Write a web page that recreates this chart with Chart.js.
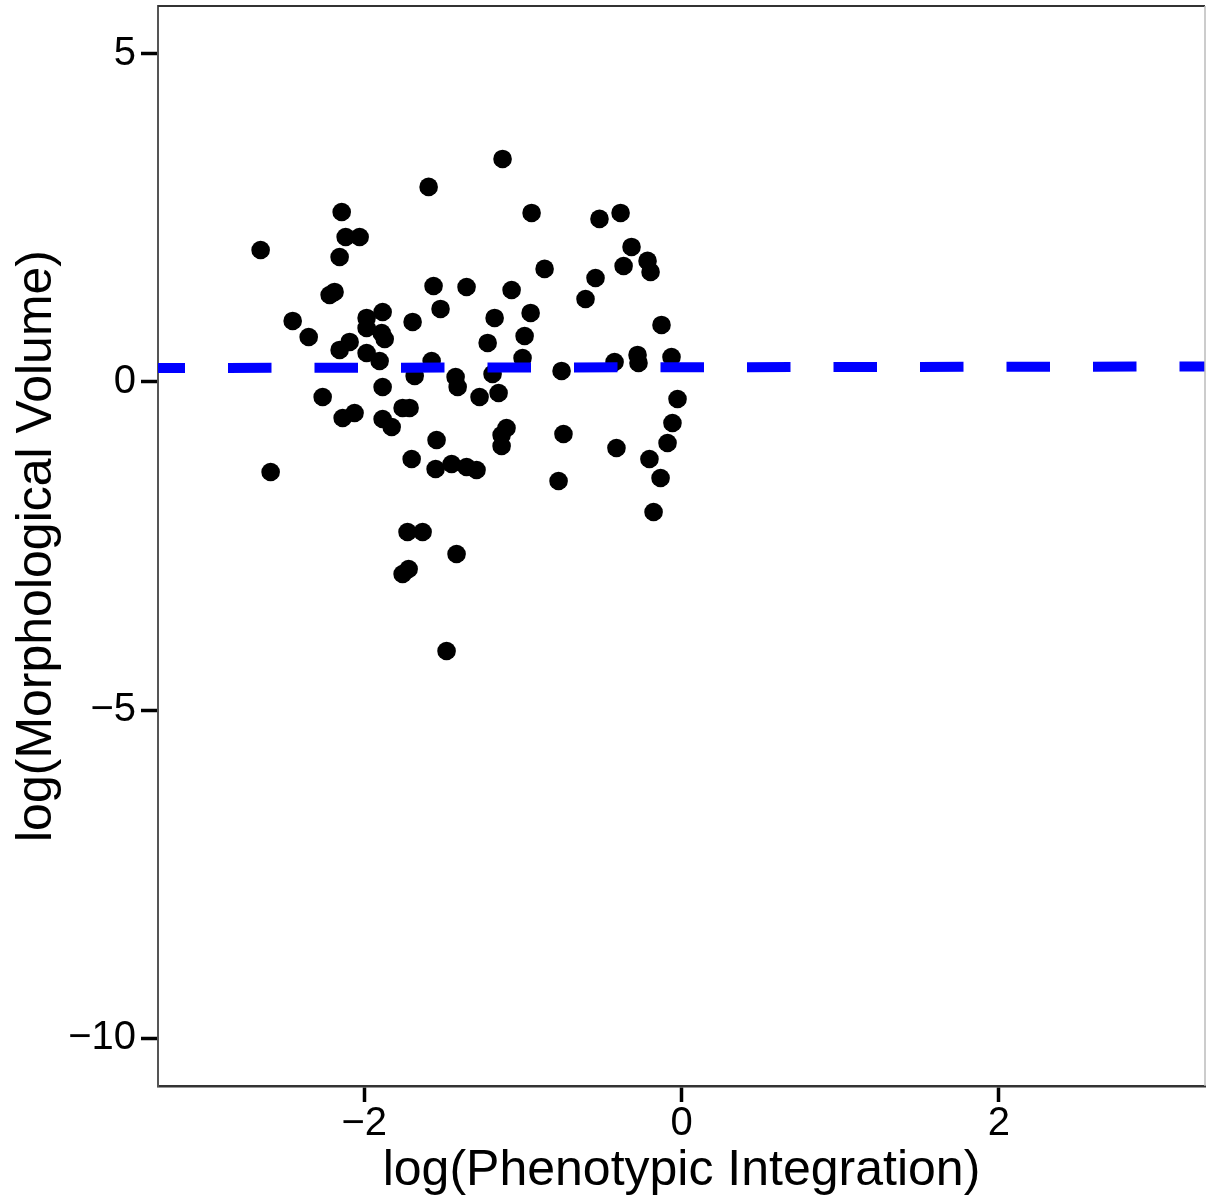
<!DOCTYPE html>
<html>
<head>
<meta charset="utf-8">
<script src="https://cdn.jsdelivr.net/npm/chart.js@4.4.1/dist/chart.umd.min.js"></script>
<style>
  html, body { margin: 0; padding: 0; background: #fff; overflow: hidden; }
  #wrap { width: 1206px; height: 1201px; }
</style>
</head>
<body>
<div id="wrap"><canvas id="myChart"></canvas></div>
<script>
// log(Phenotypic Integration) for each species
const integration = [
  -2.653, -2.590, -2.451, -2.350, -2.262, -2.218, -2.187, -2.142, -2.155, -2.117,
  -2.029, -2.155, -2.092, -2.136, -2.061, -1.985, -1.884, -1.985, -1.890, -1.871,
  -1.985, -1.903, -1.884, -1.884, -1.827, -1.758, -1.714, -1.695, -1.682, -1.701,
  -1.727, -1.632, -1.758, -1.720, -1.594, -1.563, -1.519, -1.575, -1.544, -1.550,
  -1.449, -1.424, -1.411, -1.418, -1.481, -1.355, -1.355, -1.292, -1.273, -1.222,
  -1.178, -1.191, -1.153, -1.134, -1.103, -1.134, -1.128, -1.071, -1.002, -0.989,
  -0.951, -0.945, -0.863, -0.756, -0.744, -0.775, -0.605, -0.542, -0.517, -0.384,
  -0.422, -0.410, -0.365, -0.315, -0.277, -0.271, -0.214, -0.195, -0.202, -0.176,
  -0.132, -0.126, -0.088, -0.063, -0.057, -0.025
];
// log(Morphological Volume), same order
const volume = [
  2.012, -1.372, 0.930, 0.686, -0.229, 1.326, 1.372, 2.591, 1.905, 2.210,
  2.210, 0.488, 0.610, -0.549, -0.473, 0.976, 1.067, 0.823, 0.747, 0.655,
  0.442, 0.320, -0.076, -0.564, -0.686, -0.396, -0.396, 0.915, 0.091, -1.174,
  -2.287, -2.287, -2.927, -2.851, 2.973, 1.463, 1.113, 0.320, -0.884, -1.326,
  -1.250, 0.076, -0.076, -2.622, -4.101, 1.448, -1.296, -1.341, -0.229, 0.595,
  0.976, 0.122, -0.168, -0.976, -0.701, -0.808, 3.399, 1.402, 0.366, 0.701,
  1.052, 2.576, 1.723, 0.168, -0.793, -1.509, 1.265, 1.585, 2.485, 2.576,
  0.305, -1.006, 1.768, 2.058, 0.412, 0.290, 1.845, 1.677, -1.174, -1.982,
  -1.463, 0.869, -0.930, 0.381, -0.625, -0.259
];
// fitted line end points
const fitX = [-3.30, 3.30];
const fitY = [0.213, 0.236];

const xTicks = [-2, 0, 2];
const yTicks = [-10, -5, 0, 5];

const minus = v => v < 0 ? '\u2212' + Math.abs(v) : String(v);

// no extra room for end labels, the frame fills the canvas
const noPad = s => {
  s.paddingTop = 0; s.paddingBottom = 0;
  s.paddingLeft = 0; s.paddingRight = 0;
};

const frame = {
  id: 'frame',
  afterDraw(chart) {
    const { ctx, chartArea: a } = chart;
    ctx.save();
    ctx.strokeStyle = '#333';
    ctx.lineWidth = 2;
    ctx.beginPath();
    ctx.moveTo(a.left, a.top);
    ctx.lineTo(a.right, a.top);
    ctx.stroke();
    ctx.strokeStyle = '#bbb';
    ctx.lineWidth = 1.5;
    ctx.beginPath();
    ctx.moveTo(a.right, a.top);
    ctx.lineTo(a.right, a.bottom);
    ctx.stroke();
    ctx.restore();
  }
};

const ctx = document.getElementById('myChart');

new Chart(ctx, {
  type: 'scatter',
  data: {
    datasets: [{
      type: 'line',
      data: fitX.map((x, i) => ({ x: x, y: fitY[i] })),
      borderColor: '#0000ff',
      borderWidth: 10,
      borderDash: [43.5, 43],
      borderDashOffset: 16.5,
      borderCapStyle: 'butt',
      pointRadius: 0,
      fill: false
    }, {
      data: integration.map((x, i) => ({ x: x, y: volume[i] })),
      backgroundColor: '#000',
      borderWidth: 0,
      pointRadius: 9.3,
      pointHoverRadius: 9.3
    }]
  },
  options: {
    responsive: true,
    maintainAspectRatio: false,
    animation: false,
    layout: { autoPadding: false, padding: { top: 6, right: 1, left: 0, bottom: 0 } },
    plugins: {
      legend: { display: false },
      tooltip: { enabled: false }
    },
    scales: {
      x: {
        min: -3.30,
        max: 3.30,
        afterBuildTicks: s => { s.ticks = xTicks.map(v => ({ value: v })); },
        afterFit: s => { s.height = 115; noPad(s); },
        grid: {
          drawOnChartArea: false,
          tickLength: 16,
          tickWidth: 3.5,
          tickColor: '#000'
        },
        border: { color: '#333', width: 2.5 },
        ticks: {
          padding: 2,
          color: '#000',
          font: { family: 'Liberation Sans', size: 40, lineHeight: 1 },
          callback: v => minus(v)
        },
        title: {
          display: true,
          text: 'log(Phenotypic Integration)',
          color: '#000',
          font: { family: 'Liberation Sans', size: 50, lineHeight: 1.2 },
          padding: { top: 0, bottom: 0 }
        }
      },
      y: {
        min: -10.73,
        max: 5.73,
        afterBuildTicks: s => { s.ticks = yTicks.map(v => ({ value: v })); },
        afterFit: s => { s.width = 158; noPad(s); },
        grid: {
          drawOnChartArea: false,
          tickLength: 17,
          tickWidth: 3.5,
          tickColor: '#000'
        },
        border: { color: '#555', width: 2 },
        ticks: {
          padding: 5,
          color: '#000',
          font: { family: 'Liberation Sans', size: 40, lineHeight: 1 },
          callback: v => minus(v)
        },
        title: {
          display: true,
          text: 'log(Morphological Volume)',
          color: '#000',
          font: { family: 'Liberation Sans', size: 50, lineHeight: 1.2 },
          padding: { top: 7, bottom: 0 }
        }
      }
    }
  },
  plugins: [frame]
});
</script>
</body>
</html>
